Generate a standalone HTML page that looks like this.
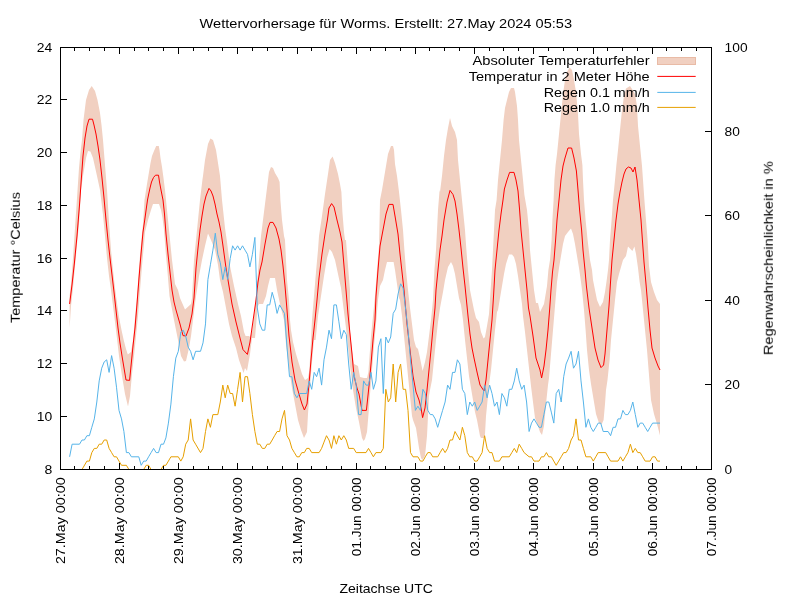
<!DOCTYPE html>
<html><head><meta charset="utf-8"><title>Wettervorhersage Worms</title>
<style>html,body{margin:0;padding:0;background:#fff}svg{display:block}text{font-family:"Liberation Sans",sans-serif;font-size:13.0px;fill:#000}</style></head><body>
<svg width="800" height="600" viewBox="0 0 800 600">
<rect x="0" y="0" width="800" height="600" fill="#fff"/>
<polygon points="69.6,296.0 71.0,284.0 73.0,258.0 75.0,228.0 77.0,198.0 79.0,168.0 80.5,152.0 82.0,140.0 83.5,120.0 86.0,100.0 89.0,90.0 91.7,86.0 95.0,91.0 97.5,100.0 100.0,113.0 101.5,125.0 103.0,140.0 104.6,160.0 107.0,190.0 109.0,222.0 111.0,250.0 113.0,270.0 115.0,288.0 117.0,303.0 119.0,317.0 121.5,330.0 123.7,340.0 126.0,349.0 127.8,354.5 131.0,352.0 133.0,340.0 135.0,318.0 137.0,296.0 139.0,268.0 141.0,244.0 143.0,224.0 144.5,200.0 147.0,184.0 149.0,172.0 150.5,163.0 152.0,156.0 154.0,151.0 156.2,146.0 158.8,146.0 159.5,150.0 160.5,158.0 162.0,167.0 163.5,178.0 165.0,190.0 166.0,200.0 169.0,230.0 172.0,260.0 175.0,284.0 178.0,290.0 180.0,298.0 185.0,309.6 191.0,304.0 192.0,298.0 194.0,260.0 196.0,240.0 198.0,220.0 200.0,200.0 202.4,180.0 203.0,176.0 205.0,160.0 208.0,144.0 210.4,138.4 213.0,140.0 216.0,150.0 220.0,176.0 222.0,200.0 225.0,228.0 227.0,242.0 230.0,266.0 234.0,286.0 238.0,304.0 241.0,316.0 244.0,332.0 245.6,336.0 249.0,336.0 250.0,337.0 252.0,332.0 254.0,316.0 256.0,296.0 257.6,276.0 259.0,260.0 261.0,236.0 263.0,220.0 265.0,204.0 267.0,188.0 269.0,172.0 271.0,167.0 273.0,168.0 275.0,173.0 278.0,178.0 279.6,182.0 280.4,200.0 282.0,220.0 284.0,236.0 285.0,240.0 286.0,260.0 287.0,280.0 289.0,300.0 290.0,320.0 291.0,330.0 293.0,342.0 296.0,354.0 299.0,364.0 302.0,374.0 305.0,380.0 308.0,378.0 309.4,370.0 311.0,340.0 312.0,320.0 314.0,296.0 316.0,272.0 318.0,250.0 319.0,236.0 322.0,216.0 325.0,194.0 328.0,174.0 330.0,160.0 332.6,156.4 335.0,163.0 338.0,174.0 340.0,184.0 341.4,192.0 342.4,212.0 344.0,232.0 345.0,240.0 346.0,240.0 348.0,266.0 350.0,290.0 350.0,332.0 352.0,350.0 354.0,364.0 358.0,366.0 360.0,377.0 364.0,378.0 367.0,378.0 368.4,372.0 371.0,336.0 373.0,316.0 375.0,296.0 377.0,270.0 379.0,246.0 380.0,200.0 382.0,190.0 384.0,178.0 386.0,166.0 388.0,154.0 391.0,146.0 393.0,146.0 394.0,150.0 395.0,164.0 397.0,176.0 399.0,192.0 401.0,210.0 403.0,230.0 404.4,250.0 406.0,270.0 408.0,290.0 410.0,308.0 412.0,324.0 414.0,340.0 416.0,347.0 418.0,349.0 420.0,358.0 422.6,371.0 425.0,362.0 427.0,352.0 429.0,336.0 431.0,320.0 433.0,300.0 434.4,270.0 436.0,250.0 437.0,230.0 438.0,210.0 439.6,190.0 440.0,192.0 442.0,176.0 444.0,156.0 446.0,140.0 448.0,128.0 450.0,118.0 452.0,126.0 455.0,132.0 457.0,140.0 458.0,160.0 460.0,180.0 462.0,200.0 463.0,210.0 465.0,230.0 466.4,250.0 468.0,270.0 470.0,290.0 472.0,300.0 474.0,310.0 476.0,318.0 479.0,322.0 481.0,332.0 483.6,338.4 485.0,337.0 487.0,326.0 489.0,314.0 490.6,290.0 492.0,270.0 493.0,250.0 494.0,230.0 495.0,210.0 496.6,200.0 498.0,180.0 500.0,160.0 502.0,140.0 503.6,120.0 505.0,108.0 507.0,100.0 509.0,92.0 511.0,88.0 514.0,88.0 515.0,92.0 517.0,106.0 518.0,120.0 519.0,140.0 521.0,160.0 523.0,180.0 524.4,195.0 527.0,210.0 529.0,230.0 530.0,250.0 532.0,270.0 534.0,290.0 536.0,303.0 538.0,303.0 540.0,312.0 544.0,304.0 547.0,286.0 548.4,270.0 550.0,260.0 551.6,240.0 552.4,220.0 553.6,200.0 554.4,180.0 555.6,165.0 557.0,154.0 559.0,134.0 561.0,114.0 563.0,94.0 565.0,80.0 567.0,72.0 569.6,67.6 572.0,70.0 574.0,80.0 576.0,92.0 578.0,114.0 579.0,134.0 581.0,154.0 582.4,165.0 583.0,180.0 584.0,200.0 585.6,220.0 587.6,240.0 590.0,260.0 592.0,270.0 593.0,280.0 595.0,290.0 597.0,300.0 600.0,307.0 603.0,302.0 605.0,292.0 607.0,278.0 608.0,270.0 609.0,260.0 610.0,240.0 611.6,220.0 613.0,200.0 615.0,180.0 616.4,165.0 618.0,150.0 620.0,130.0 622.0,110.0 624.0,96.0 626.0,88.4 630.0,86.0 632.0,89.0 635.0,94.0 637.0,106.0 638.0,126.0 640.0,146.0 642.0,166.0 643.0,180.0 644.4,200.0 646.0,220.0 647.6,240.0 649.0,266.0 651.0,282.0 654.0,292.0 657.0,300.0 660.0,304.0 660.0,435.6 657.0,424.0 654.0,414.0 651.0,400.0 649.0,375.0 647.0,350.0 645.0,330.0 643.0,310.0 641.0,290.0 639.6,282.0 638.0,268.0 636.0,254.0 634.4,246.4 632.4,251.0 628.0,246.4 626.0,256.0 623.0,260.0 621.0,267.0 619.0,274.0 617.0,282.0 615.0,300.0 613.0,320.0 611.0,340.0 609.6,360.0 607.5,380.0 606.0,390.0 605.0,404.0 603.6,420.0 601.6,424.4 599.0,423.0 596.0,414.0 593.0,396.0 591.0,384.0 589.0,370.0 587.0,350.0 585.6,330.0 584.0,310.0 582.0,290.0 581.0,282.0 579.0,268.0 577.0,256.0 575.0,244.0 573.0,234.0 571.0,228.4 568.0,232.0 565.0,236.0 563.0,244.0 561.0,256.0 559.0,268.0 557.0,282.0 555.0,306.0 553.0,330.0 551.0,354.0 549.0,378.0 548.0,385.0 546.0,404.0 544.0,426.0 542.0,435.0 540.0,432.0 538.0,426.0 535.0,418.0 533.0,402.0 531.0,386.0 529.0,368.0 527.0,350.0 525.0,332.0 523.0,316.0 522.0,304.0 520.0,290.0 518.0,276.0 516.0,264.0 514.0,257.0 512.0,254.4 509.0,254.4 506.0,264.0 504.0,274.0 502.0,286.0 500.0,298.0 498.0,310.0 497.0,312.0 495.0,330.0 493.0,350.0 491.0,370.0 489.0,385.0 488.0,396.0 486.0,416.0 485.0,434.0 484.0,438.0 481.0,438.0 480.0,436.0 477.0,420.0 475.0,412.0 472.0,394.0 469.0,376.0 467.0,358.0 465.0,340.0 463.0,320.0 461.0,305.0 459.0,298.0 457.0,286.0 455.0,274.0 453.0,266.0 451.0,262.0 448.0,267.0 445.0,280.0 443.0,292.0 441.5,300.0 440.0,308.0 438.0,322.0 436.0,340.0 434.0,360.0 432.0,380.0 430.0,390.0 429.0,396.0 428.0,416.0 427.0,436.0 425.0,456.0 422.4,460.0 421.0,458.0 419.0,448.0 416.0,428.0 413.0,420.0 412.0,416.0 410.0,396.0 408.0,376.0 406.0,356.0 404.0,336.0 402.0,316.0 400.0,300.0 399.0,298.0 397.0,284.0 395.0,270.0 393.6,262.0 387.0,262.0 385.0,270.0 383.0,280.0 381.0,284.0 380.0,286.0 378.0,300.0 376.0,324.0 374.0,346.0 372.0,370.0 370.0,394.0 369.0,408.0 367.0,432.0 365.0,439.0 363.6,441.0 362.0,438.0 359.0,422.0 356.0,408.0 353.0,390.0 350.0,366.0 347.0,336.0 345.0,320.0 343.0,304.0 341.0,288.0 338.0,274.0 335.0,260.0 332.0,252.0 329.6,249.0 327.0,258.0 324.0,276.0 321.0,296.0 318.0,316.0 315.6,340.0 314.0,340.0 312.0,362.0 310.0,386.0 309.0,400.0 308.0,414.0 307.0,432.0 304.0,438.0 301.0,430.0 298.0,420.0 295.0,404.0 292.0,388.0 289.0,368.0 286.0,344.0 284.0,320.0 280.0,304.0 277.0,290.0 275.0,278.0 270.0,278.0 268.0,286.0 266.0,296.0 263.0,304.0 259.0,304.0 258.0,306.0 257.0,314.0 255.0,338.0 252.0,338.0 250.0,354.0 247.0,371.0 245.0,368.0 243.6,373.0 239.0,360.0 236.0,348.0 232.0,336.0 229.0,324.0 226.0,308.0 223.0,292.0 220.0,280.0 218.0,265.0 215.0,250.0 211.0,240.0 208.0,233.6 205.0,246.0 202.0,260.0 199.0,276.0 197.0,290.0 196.0,296.0 193.0,320.0 191.0,336.0 189.0,348.0 186.0,361.0 184.0,361.6 181.0,356.0 178.0,340.0 174.0,320.0 169.5,296.0 167.5,272.0 165.5,250.0 164.0,230.0 162.5,218.0 161.0,210.0 159.0,204.0 153.0,204.0 151.0,210.0 148.0,220.0 145.0,232.0 144.0,244.0 142.0,266.0 140.0,290.0 138.0,316.0 136.0,336.0 134.0,356.0 132.0,374.0 130.0,396.0 128.0,406.6 125.0,394.0 122.0,376.0 119.0,356.0 116.0,330.0 113.0,306.0 111.0,290.0 109.0,276.0 107.0,258.0 105.0,236.0 103.0,215.0 100.0,190.0 97.0,176.0 93.0,158.0 90.4,151.6 88.0,151.0 86.0,158.0 83.0,176.0 81.0,190.0 79.0,224.0 77.0,244.0 75.0,266.0 73.0,288.0 71.0,306.0 69.6,328.0" fill="#f1d0c1" stroke="none"/>
<polyline points="69.6,304.0 72.1,284.0 74.5,262.0 77.0,236.0 79.5,205.0 81.4,178.0 83.0,156.0 85.0,138.0 87.0,126.0 89.0,119.2 92.5,119.2 94.0,125.0 96.0,134.0 98.0,146.0 100.0,160.0 102.0,178.0 104.0,198.0 106.0,220.0 108.0,240.0 110.0,258.0 112.0,275.0 114.0,292.0 116.0,310.0 118.0,328.0 120.0,343.0 122.0,356.0 124.0,368.0 126.0,380.0 129.6,380.4 131.0,366.0 133.0,346.0 135.0,328.0 137.0,304.0 139.0,278.0 141.0,254.0 143.0,232.0 145.0,218.0 146.5,207.0 147.5,200.0 148.5,195.0 150.0,188.0 151.5,182.0 153.5,177.5 155.5,175.2 158.5,175.2 159.5,182.0 161.0,190.0 163.0,200.0 164.5,214.0 166.0,234.0 168.0,254.0 170.0,272.0 172.0,290.0 174.0,302.0 176.0,310.0 178.0,317.0 180.0,324.0 183.0,335.6 186.0,336.0 189.0,328.0 192.0,314.0 194.0,298.0 196.0,268.0 198.0,248.0 200.0,230.0 202.0,216.0 204.0,204.0 206.0,196.0 209.0,188.4 211.0,191.0 213.0,196.0 215.0,204.0 217.0,214.0 219.0,222.0 221.0,232.0 223.0,246.0 226.0,268.0 229.0,286.0 232.0,304.0 236.0,322.0 240.0,338.0 243.0,349.6 247.4,354.4 250.0,342.0 252.0,328.0 254.0,314.0 256.0,300.0 258.0,282.0 260.0,270.0 262.0,262.0 265.0,244.0 268.0,228.0 270.0,222.4 273.0,222.4 276.0,228.0 279.0,239.0 281.0,250.0 283.0,266.0 285.0,286.0 287.0,310.0 289.0,336.0 292.0,362.0 295.0,380.0 299.0,394.0 302.0,404.0 304.4,410.0 307.0,404.0 309.0,384.0 311.0,360.0 313.0,338.0 315.0,320.0 317.0,300.0 319.0,278.0 322.0,254.0 325.0,234.0 327.4,220.0 329.0,208.0 331.6,203.6 334.0,207.0 337.0,220.0 340.0,232.0 342.0,242.0 344.0,266.0 346.0,290.0 348.0,314.0 350.0,334.0 352.0,354.0 354.0,376.0 357.0,388.0 359.0,394.0 362.0,410.4 366.4,410.4 369.0,386.0 371.0,364.0 373.0,340.0 375.0,320.0 376.0,296.0 378.0,270.0 380.0,246.0 383.0,230.0 386.0,214.0 389.0,204.4 393.0,204.4 395.0,216.0 398.0,234.0 400.0,254.0 402.0,272.0 404.0,290.0 407.0,324.0 410.0,350.0 413.0,376.0 416.0,392.0 419.0,400.0 421.0,408.0 422.6,417.6 425.0,408.0 427.0,390.0 429.0,370.0 431.0,350.0 433.0,328.0 435.0,308.0 436.0,290.0 438.0,270.0 440.0,250.0 442.0,236.0 444.0,220.0 447.0,202.0 450.0,190.4 453.0,194.5 455.0,201.0 457.0,214.0 459.0,230.0 461.0,248.0 463.0,268.0 465.0,286.0 467.0,306.0 468.0,316.0 470.0,334.0 472.0,348.0 474.0,358.0 477.0,372.0 480.0,385.0 484.0,391.0 486.0,380.0 488.0,360.0 490.0,340.0 492.0,320.0 493.6,295.0 495.0,270.0 497.0,250.0 499.0,230.0 501.0,214.0 503.0,200.0 504.4,189.0 507.0,180.0 509.6,172.4 514.0,172.4 516.0,180.0 518.0,191.0 519.6,210.0 521.0,230.0 523.0,250.0 525.0,270.0 527.0,290.0 528.5,308.0 530.0,316.0 533.0,336.0 536.0,358.0 538.0,364.0 540.0,370.0 541.6,378.0 544.0,366.0 546.0,350.0 548.0,330.0 549.6,310.0 551.0,290.0 552.5,272.0 554.0,260.0 555.6,240.0 557.0,220.0 559.0,200.0 561.0,180.0 563.0,166.0 565.0,158.0 568.0,148.0 571.6,148.0 574.0,158.0 576.4,171.0 578.0,190.0 579.6,210.0 581.6,230.0 583.0,250.0 585.0,270.0 586.4,286.0 589.0,308.0 592.0,328.0 595.0,348.0 598.0,360.0 601.0,367.6 603.6,365.0 605.0,354.0 607.0,330.0 609.0,306.0 610.4,284.0 612.0,260.0 614.0,240.0 616.0,220.0 618.0,204.0 620.0,192.0 622.0,182.0 624.0,174.0 626.0,169.0 628.4,167.0 631.0,168.0 633.0,172.0 635.0,167.0 637.0,180.0 639.0,200.0 641.0,220.0 642.4,240.0 644.0,262.0 646.0,284.0 648.0,308.0 650.0,330.0 652.0,348.0 655.0,358.0 658.0,366.0 660.0,370.0" fill="none" stroke="#ff0000" stroke-width="1" stroke-linejoin="round"/>
<polyline points="69.6,456.8 72.1,444.2 79.5,444.2 82.0,440.0 84.4,440.0 86.9,435.7 89.4,435.7 91.8,427.3 94.3,418.9 96.8,402.0 99.2,380.9 101.7,368.2 104.2,361.9 106.7,359.8 109.1,372.4 111.6,355.6 114.1,368.2 116.5,387.2 119.0,410.4 121.5,418.9 123.9,431.5 126.4,452.6 128.9,452.6 131.4,456.8 138.8,456.8 141.2,465.3 143.7,461.1 146.2,461.1 148.6,456.8 151.1,452.6 153.6,448.4 156.1,452.6 158.5,452.6 161.0,444.2 163.5,444.2 165.9,437.9 168.4,423.1 170.9,404.1 173.4,376.7 175.8,358.1 178.3,351.3 180.8,331.9 183.2,330.2 185.7,336.1 188.2,347.1 190.6,351.3 193.1,359.8 195.6,351.3 200.5,351.3 203.0,342.9 205.5,323.9 207.9,279.6 210.4,264.8 212.9,250.1 215.3,233.2 217.8,254.3 220.3,262.7 222.8,279.6 225.2,266.9 227.7,279.6 230.2,258.5 232.6,245.8 235.1,250.1 237.6,245.8 240.1,250.1 242.5,245.8 245.0,250.1 247.5,254.3 249.9,266.9 252.4,254.3 254.9,237.4 257.3,307.9 259.8,323.9 262.3,330.2 264.8,330.2 267.2,304.9 269.7,304.9 272.2,292.3 274.6,300.7 277.1,313.4 279.6,304.9 282.0,309.1 284.5,313.4 287.0,347.1 289.5,376.7 291.9,376.7 294.4,393.5 296.9,397.8 299.3,393.5 306.7,393.5 309.2,380.9 311.7,389.3 314.2,372.4 316.6,376.7 319.1,368.2 321.6,385.1 324.0,359.8 326.5,347.1 329.0,330.2 331.5,338.7 333.9,304.9 336.4,304.9 338.9,321.8 341.3,338.7 343.8,330.2 346.3,334.5 348.7,364.0 351.2,389.3 353.7,372.4 356.2,385.1 358.6,414.6 361.1,414.6 363.6,380.9 366.0,385.1 368.5,385.1 371.0,372.4 373.4,389.3 375.9,380.9 378.4,347.1 380.9,338.7 383.3,393.5 385.8,337.0 388.3,342.9 390.7,337.0 393.2,313.4 395.7,309.1 398.1,293.9 400.6,283.8 403.1,288.0 405.6,309.1 408.0,330.2 410.5,359.8 413.0,385.1 415.4,410.4 417.9,406.2 420.4,410.4 422.9,389.3 425.3,393.5 427.8,410.4 430.3,414.6 432.7,414.6 435.2,418.9 437.7,427.3 440.1,418.9 442.6,410.4 445.1,402.0 447.6,385.1 450.0,389.3 452.5,372.4 455.0,372.4 457.4,359.8 459.9,364.0 462.4,389.3 464.8,393.5 467.3,414.6 469.8,402.0 472.3,406.2 474.7,402.0 477.2,410.4 479.7,406.2 482.1,402.0 484.6,385.1 487.1,397.8 489.6,385.1 492.0,393.5 494.5,406.2 497.0,402.0 499.4,414.6 501.9,393.5 504.4,397.8 506.8,406.2 509.3,389.3 511.8,389.3 514.3,380.9 516.7,368.2 519.2,380.9 521.7,389.3 524.1,385.1 526.6,402.0 529.1,431.5 531.5,423.1 534.0,418.9 536.5,423.1 539.0,427.3 541.4,427.3 543.9,414.6 546.4,402.0 548.8,402.0 551.3,412.1 553.8,423.1 556.2,393.5 558.7,389.3 561.2,402.0 563.7,376.7 566.1,364.0 568.6,358.1 571.1,351.3 573.5,368.2 576.0,364.0 578.5,351.3 581.0,380.9 583.4,402.0 585.9,427.3 588.4,418.9 590.8,427.3 593.3,431.5 595.8,427.3 598.2,423.1 600.7,423.1 603.2,431.5 608.1,431.5 610.6,435.7 613.1,427.3 615.5,427.3 618.0,418.9 620.5,418.9 622.9,410.4 625.4,414.6 627.9,414.6 630.4,410.4 632.8,402.0 635.3,414.6 637.8,427.3 640.2,423.1 642.7,423.1 645.2,427.3 647.7,431.5 650.1,427.3 652.6,423.1 660.0,423.1" fill="none" stroke="#56b4e9" stroke-width="1" stroke-linejoin="round"/>
<polyline points="69.6,469.5 82.0,469.5 86.9,461.1 89.4,461.1 91.8,452.6 94.3,448.4 96.8,448.4 99.2,444.2 101.7,444.2 104.2,440.0 106.7,440.0 109.1,448.4 111.6,452.6 114.1,456.8 116.5,456.8 119.0,461.1 121.5,465.3 126.4,465.3 128.9,469.5 143.7,469.5 146.2,465.3 148.6,465.3 151.1,469.5 161.0,469.5 163.5,465.3 165.9,465.3 168.4,461.1 170.9,456.8 178.3,456.8 180.8,461.1 183.2,456.8 185.7,444.2 188.2,440.0 190.6,418.9 193.1,440.0 195.6,444.2 200.5,452.6 203.0,448.4 205.5,431.5 207.9,418.9 210.4,427.3 212.9,414.6 217.8,414.6 220.3,402.0 222.8,385.1 225.2,397.8 227.7,385.1 230.2,393.5 232.6,393.5 235.1,406.2 237.6,389.3 240.1,372.4 242.5,402.0 245.0,376.7 247.5,376.7 249.9,393.5 252.4,414.6 254.9,431.5 257.3,444.2 259.8,444.2 262.3,448.4 264.8,448.4 267.2,444.2 269.7,444.2 272.2,440.0 274.6,435.7 277.1,431.5 279.6,431.5 282.0,418.9 284.5,410.4 287.0,435.7 289.5,440.0 291.9,448.4 294.4,452.6 296.9,456.8 299.3,456.8 301.8,452.6 304.3,452.6 306.7,448.4 309.2,448.4 311.7,452.6 319.1,452.6 321.6,448.4 324.0,442.1 326.5,435.7 329.0,440.0 331.5,448.4 333.9,435.7 336.4,444.2 338.9,435.7 341.3,440.0 343.8,435.7 346.3,440.0 348.7,448.4 353.7,448.4 356.2,452.6 366.0,452.6 368.5,448.4 371.0,452.6 373.4,456.8 375.9,452.6 380.9,452.6 383.3,448.4 385.8,389.3 388.3,402.0 390.7,397.8 393.2,364.0 395.7,402.0 398.1,372.4 400.6,364.0 403.1,389.3 405.6,389.3 408.0,410.4 410.5,452.6 413.0,456.8 417.9,456.8 420.4,461.1 422.9,461.1 425.3,456.8 427.8,452.6 430.3,452.6 432.7,456.8 437.7,456.8 440.1,452.6 442.6,448.4 445.1,452.6 447.6,448.4 450.0,440.0 452.5,440.0 455.0,431.5 459.9,440.0 462.4,427.3 464.8,435.7 467.3,452.6 469.8,456.8 472.3,456.8 474.7,461.1 477.2,461.1 479.7,456.8 482.1,452.6 484.6,435.7 487.1,448.4 489.6,452.6 492.0,452.6 494.5,461.1 499.4,461.1 501.9,456.8 509.3,456.8 511.8,452.6 514.3,448.4 516.7,452.6 519.2,444.2 521.7,448.4 524.1,452.6 529.1,456.8 531.5,456.8 534.0,461.1 536.5,461.1 539.0,461.1 541.4,456.8 543.9,456.8 546.4,452.6 548.8,456.8 551.3,456.8 556.2,465.3 558.7,461.1 561.2,456.8 563.7,452.6 566.1,452.6 568.6,448.4 571.1,440.0 573.5,435.7 576.0,418.9 578.5,440.0 581.0,440.0 583.4,448.4 585.9,456.8 590.8,456.8 593.3,461.1 595.8,456.8 598.2,452.6 605.7,452.6 608.1,456.8 610.6,461.1 618.0,461.1 620.5,456.8 622.9,461.1 625.4,456.8 627.9,452.6 630.4,444.2 632.8,452.6 635.3,448.4 637.8,452.6 640.2,452.6 642.7,456.8 645.2,461.1 650.1,461.1 652.6,456.8 655.1,456.8 657.5,461.1 660.0,461.1" fill="none" stroke="#e69f00" stroke-width="1" stroke-linejoin="round"/>
<path d="M60.50,469.5v-6.5M60.50,47.5v6.5M74.50,469.5v-3.5M74.50,47.5v3.5M89.50,469.5v-3.5M89.50,47.5v3.5M104.50,469.5v-3.5M104.50,47.5v3.5M119.50,469.5v-6.5M119.50,47.5v6.5M134.50,469.5v-3.5M134.50,47.5v3.5M148.50,469.5v-3.5M148.50,47.5v3.5M163.50,469.5v-3.5M163.50,47.5v3.5M178.50,469.5v-6.5M178.50,47.5v6.5M193.50,469.5v-3.5M193.50,47.5v3.5M208.50,469.5v-3.5M208.50,47.5v3.5M222.50,469.5v-3.5M222.50,47.5v3.5M237.50,469.5v-6.5M237.50,47.5v6.5M252.50,469.5v-3.5M252.50,47.5v3.5M267.50,469.5v-3.5M267.50,47.5v3.5M282.50,469.5v-3.5M282.50,47.5v3.5M297.50,469.5v-6.5M297.50,47.5v6.5M311.50,469.5v-3.5M311.50,47.5v3.5M326.50,469.5v-3.5M326.50,47.5v3.5M341.50,469.5v-3.5M341.50,47.5v3.5M356.50,469.5v-6.5M356.50,47.5v6.5M370.50,469.5v-3.5M370.50,47.5v3.5M385.50,469.5v-3.5M385.50,47.5v3.5M400.50,469.5v-3.5M400.50,47.5v3.5M415.50,469.5v-6.5M415.50,47.5v6.5M429.50,469.5v-3.5M429.50,47.5v3.5M444.50,469.5v-3.5M444.50,47.5v3.5M459.50,469.5v-3.5M459.50,47.5v3.5M474.50,469.5v-6.5M474.50,47.5v6.5M489.50,469.5v-3.5M489.50,47.5v3.5M503.50,469.5v-3.5M503.50,47.5v3.5M518.50,469.5v-3.5M518.50,47.5v3.5M533.50,469.5v-6.5M533.50,47.5v6.5M548.50,469.5v-3.5M548.50,47.5v3.5M563.50,469.5v-3.5M563.50,47.5v3.5M577.50,469.5v-3.5M577.50,47.5v3.5M593.50,469.5v-6.5M593.50,47.5v6.5M607.50,469.5v-3.5M607.50,47.5v3.5M622.50,469.5v-3.5M622.50,47.5v3.5M637.50,469.5v-3.5M637.50,47.5v3.5M652.50,469.5v-6.5M652.50,47.5v6.5M666.50,469.5v-3.5M666.50,47.5v3.5M681.50,469.5v-3.5M681.50,47.5v3.5M696.50,469.5v-3.5M696.50,47.5v3.5M711.50,469.5v-6.5M711.50,47.5v6.5M60.5,469.50h6.5M60.5,416.50h6.5M60.5,363.50h6.5M60.5,310.50h6.5M60.5,258.50h6.5M60.5,205.50h6.5M60.5,152.50h6.5M60.5,99.50h6.5M60.5,47.50h6.5M711.5,469.50h-6.5M711.5,384.50h-6.5M711.5,300.50h-6.5M711.5,215.50h-6.5M711.5,131.50h-6.5M711.5,47.50h-6.5" stroke="#000" stroke-width="1" fill="none"/>
<rect x="60.5" y="47.5" width="651.0" height="422.0" fill="none" stroke="#000" stroke-width="1"/>
<g opacity="0.999">
<text x="385.80" y="28.40" text-anchor="middle" textLength="372.5" lengthAdjust="spacingAndGlyphs">Wettervorhersage für Worms. Erstellt: 27.May 2024 05:53</text>
<text x="52.20" y="474.00" text-anchor="end" textLength="7.8" lengthAdjust="spacingAndGlyphs">8</text>
<text x="52.20" y="421.00" text-anchor="end" textLength="15.5" lengthAdjust="spacingAndGlyphs">10</text>
<text x="52.20" y="368.00" text-anchor="end" textLength="15.5" lengthAdjust="spacingAndGlyphs">12</text>
<text x="52.20" y="315.00" text-anchor="end" textLength="15.5" lengthAdjust="spacingAndGlyphs">14</text>
<text x="52.20" y="263.00" text-anchor="end" textLength="15.5" lengthAdjust="spacingAndGlyphs">16</text>
<text x="52.20" y="210.00" text-anchor="end" textLength="15.5" lengthAdjust="spacingAndGlyphs">18</text>
<text x="52.20" y="157.00" text-anchor="end" textLength="15.5" lengthAdjust="spacingAndGlyphs">20</text>
<text x="52.20" y="104.00" text-anchor="end" textLength="15.5" lengthAdjust="spacingAndGlyphs">22</text>
<text x="52.20" y="52.00" text-anchor="end" textLength="15.5" lengthAdjust="spacingAndGlyphs">24</text>
<text x="724.60" y="474.00" text-anchor="start" textLength="7.6" lengthAdjust="spacingAndGlyphs">0</text>
<text x="724.60" y="389.00" text-anchor="start" textLength="15.3" lengthAdjust="spacingAndGlyphs">20</text>
<text x="724.60" y="305.00" text-anchor="start" textLength="15.3" lengthAdjust="spacingAndGlyphs">40</text>
<text x="724.60" y="220.00" text-anchor="start" textLength="15.3" lengthAdjust="spacingAndGlyphs">60</text>
<text x="724.60" y="136.00" text-anchor="start" textLength="15.3" lengthAdjust="spacingAndGlyphs">80</text>
<text x="724.60" y="52.00" text-anchor="start" textLength="23.0" lengthAdjust="spacingAndGlyphs">100</text>
<text x="64.70" y="477.30" text-anchor="end" textLength="86.8" lengthAdjust="spacingAndGlyphs" transform="rotate(-90 64.70 477.30)">27.May 00:00</text>
<text x="123.70" y="477.30" text-anchor="end" textLength="86.8" lengthAdjust="spacingAndGlyphs" transform="rotate(-90 123.70 477.30)">28.May 00:00</text>
<text x="182.70" y="477.30" text-anchor="end" textLength="86.8" lengthAdjust="spacingAndGlyphs" transform="rotate(-90 182.70 477.30)">29.May 00:00</text>
<text x="241.70" y="477.30" text-anchor="end" textLength="86.8" lengthAdjust="spacingAndGlyphs" transform="rotate(-90 241.70 477.30)">30.May 00:00</text>
<text x="301.70" y="477.30" text-anchor="end" textLength="86.8" lengthAdjust="spacingAndGlyphs" transform="rotate(-90 301.70 477.30)">31.May 00:00</text>
<text x="360.70" y="477.30" text-anchor="end" textLength="79.0" lengthAdjust="spacingAndGlyphs" transform="rotate(-90 360.70 477.30)">01.Jun 00:00</text>
<text x="419.70" y="477.30" text-anchor="end" textLength="79.0" lengthAdjust="spacingAndGlyphs" transform="rotate(-90 419.70 477.30)">02.Jun 00:00</text>
<text x="478.70" y="477.30" text-anchor="end" textLength="79.0" lengthAdjust="spacingAndGlyphs" transform="rotate(-90 478.70 477.30)">03.Jun 00:00</text>
<text x="537.70" y="477.30" text-anchor="end" textLength="79.0" lengthAdjust="spacingAndGlyphs" transform="rotate(-90 537.70 477.30)">04.Jun 00:00</text>
<text x="597.70" y="477.30" text-anchor="end" textLength="79.0" lengthAdjust="spacingAndGlyphs" transform="rotate(-90 597.70 477.30)">05.Jun 00:00</text>
<text x="656.70" y="477.30" text-anchor="end" textLength="79.0" lengthAdjust="spacingAndGlyphs" transform="rotate(-90 656.70 477.30)">06.Jun 00:00</text>
<text x="715.70" y="477.30" text-anchor="end" textLength="79.0" lengthAdjust="spacingAndGlyphs" transform="rotate(-90 715.70 477.30)">07.Jun 00:00</text>
<text x="19.40" y="257.60" text-anchor="middle" textLength="131.0" lengthAdjust="spacingAndGlyphs" transform="rotate(-90 19.40 257.60)">Temperatur °Celsius</text>
<text x="773.00" y="258.20" text-anchor="middle" textLength="194.0" lengthAdjust="spacingAndGlyphs" transform="rotate(-90 773.00 258.20)">Regenwahrscheinlichkeit in %</text>
<text x="386.20" y="593.40" text-anchor="middle" textLength="93.5" lengthAdjust="spacingAndGlyphs">Zeitachse UTC</text>
<text x="649.70" y="65.30" text-anchor="end" textLength="177.2" lengthAdjust="spacingAndGlyphs">Absoluter Temperaturfehler</text>
<text x="649.70" y="80.90" text-anchor="end" textLength="181.0" lengthAdjust="spacingAndGlyphs">Temperatur in 2 Meter Höhe</text>
<text x="649.70" y="96.90" text-anchor="end" textLength="106.0" lengthAdjust="spacingAndGlyphs">Regen 0.1 mm/h</text>
<text x="649.70" y="111.90" text-anchor="end" textLength="106.0" lengthAdjust="spacingAndGlyphs">Regen 1.0 mm/h</text>
</g>
<rect x="657.5" y="57.5" width="38" height="7" fill="#f1d0c1" stroke="#e9bba6" stroke-width="1"/>
<path d="M657.3,76.4H695.7" stroke="#ff0000" stroke-width="1"/>
<path d="M657.3,92.4H695.7" stroke="#56b4e9" stroke-width="1"/>
<path d="M657.3,107.4H695.7" stroke="#e69f00" stroke-width="1"/>
</svg></body></html>
